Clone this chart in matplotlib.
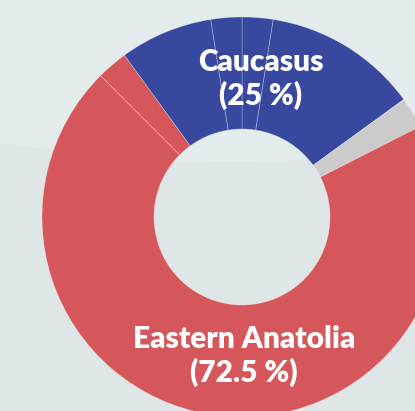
import numpy as np
import matplotlib.pyplot as plt

# slices clockwise from 12 o'clock
regions = ['Caucasus', 'Caucasus', 'Other', 'Eastern Anatolia',
           'Eastern Anatolia', 'Caucasus', 'Caucasus']
shares = [2.5, 12.5, 2.5, 70.0, 2.5, 7.5, 2.5]
group_labels = ['Caucasus\n(25 %)', 'Eastern Anatolia\n(72.5 %)']

colors = {'Caucasus': '#38489f', 'Eastern Anatolia': '#d5575b', 'Other': '#cbcbcb'}

W, H = 415, 411
fig = plt.figure(figsize=(W / 100, H / 100), dpi=100)
ax = fig.add_axes([0, 0, 1, 1])

# background with soft lighter band at top
fig.patch.set_facecolor('#dfe6e7')
xs = np.linspace(0, W, 200)
wave = H - (143 + 22 * np.sin(np.pi * xs / 520) - 8 * (xs / W) ** 2)
ax.fill_between(xs, wave, H, color='#e4ebec', lw=0, zorder=0)

cx, cy = 242, H - 217
wedges, _ = ax.pie(shares, colors=[colors[r] for r in regions],
                   startangle=90, counterclock=False,
                   center=(cx, cy), radius=200,
                   wedgeprops=dict(width=112, edgecolor=(1, 1, 1, 0.3),
                                   linewidth=0.6))
for w in wedges:
    w.set_zorder(2)

ax.set_xlim(0, W)
ax.set_ylim(0, H)
ax.set_aspect('auto')
ax.axis('off')

txt = dict(color='white', fontsize=21.5, fontweight='heavy', family=['Lato', 'DejaVu Sans'],
           ha='center', va='center', linespacing=1.2, zorder=5)
ax.text(261, H - 79, group_labels[0], **txt)
ax.text(244, H - 356, group_labels[1], **txt)

fig.savefig('out.png', dpi=100, facecolor=fig.get_facecolor())
